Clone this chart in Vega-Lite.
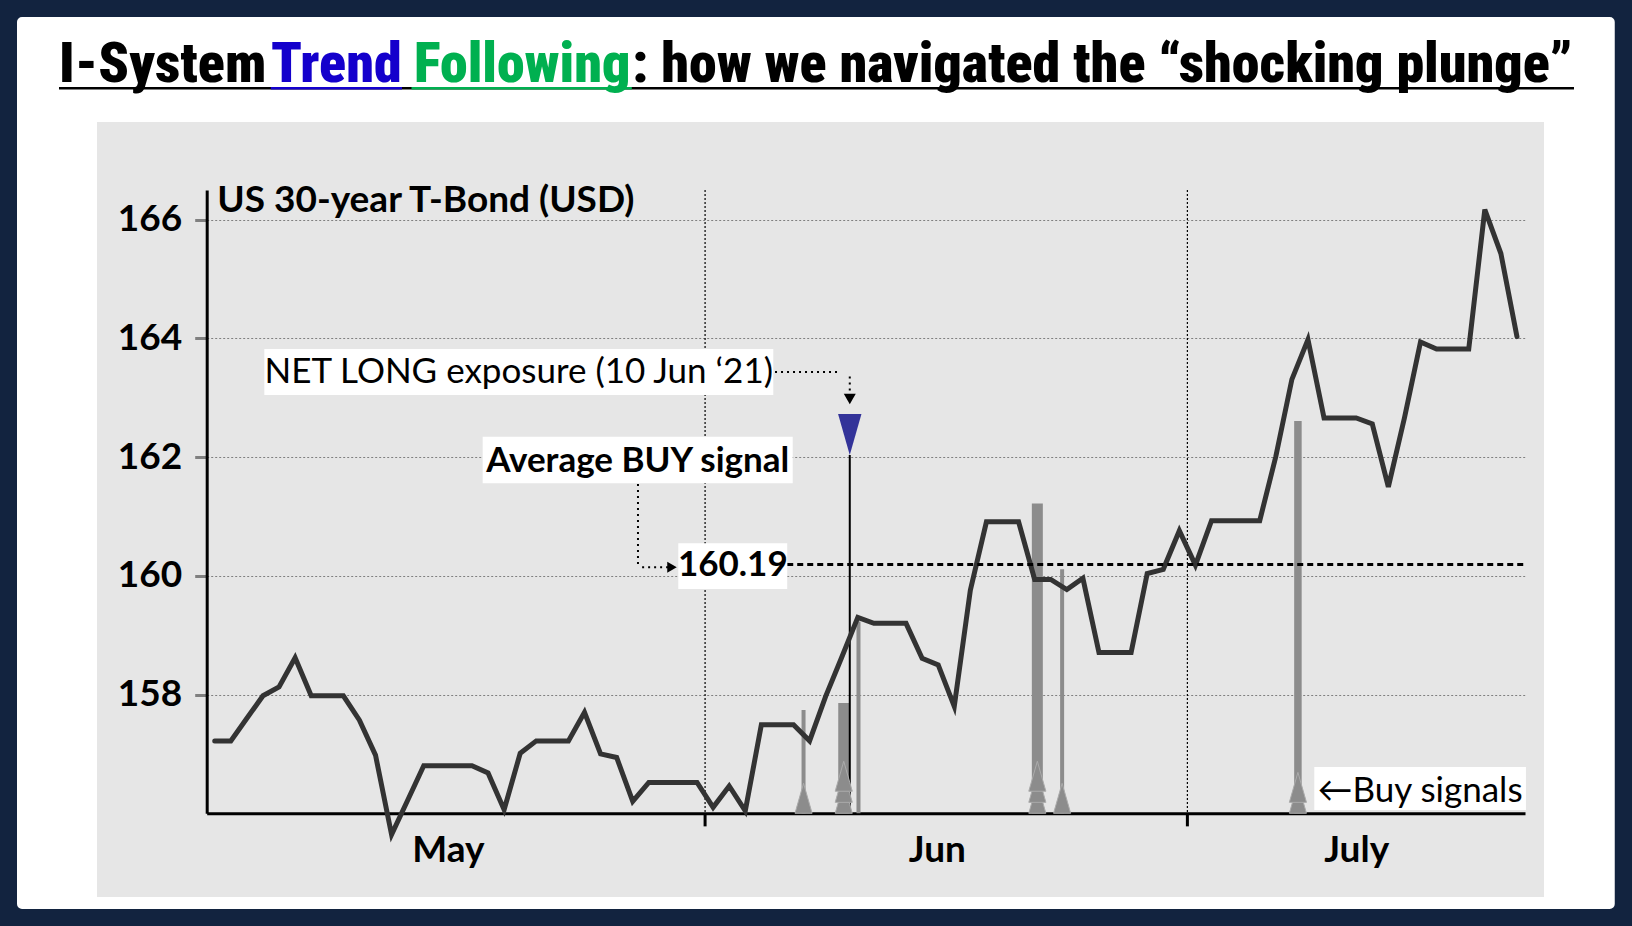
{
  "$schema": "https://vega.github.io/schema/vega-lite/v6.json",
  "width": 1447,
  "height": 775,
  "autosize": "none",
  "padding": {"left": 97, "top": 122, "right": 88, "bottom": 29},
  "background": "white",
  "config": {"view": {"fill": "#E6E6E6", "stroke": null}, "font": "Lato"},
  "datasets": {
    "price": [
      {"date": "2021-05-01", "price": 157.22}, {"date": "2021-05-02", "price": 157.22}, {"date": "2021-05-03", "price": 157.6},
      {"date": "2021-05-04", "price": 157.98}, {"date": "2021-05-05", "price": 158.13}, {"date": "2021-05-06", "price": 158.62},
      {"date": "2021-05-07", "price": 157.98}, {"date": "2021-05-08", "price": 157.98}, {"date": "2021-05-09", "price": 157.98},
      {"date": "2021-05-10", "price": 157.57}, {"date": "2021-05-11", "price": 156.98}, {"date": "2021-05-12", "price": 155.64},
      {"date": "2021-05-13", "price": 156.22}, {"date": "2021-05-14", "price": 156.8}, {"date": "2021-05-15", "price": 156.8},
      {"date": "2021-05-16", "price": 156.8}, {"date": "2021-05-17", "price": 156.8}, {"date": "2021-05-18", "price": 156.68},
      {"date": "2021-05-19", "price": 156.06}, {"date": "2021-05-20", "price": 157.01}, {"date": "2021-05-21", "price": 157.22},
      {"date": "2021-05-22", "price": 157.22}, {"date": "2021-05-23", "price": 157.22}, {"date": "2021-05-24", "price": 157.7},
      {"date": "2021-05-25", "price": 157.0}, {"date": "2021-05-26", "price": 156.94}, {"date": "2021-05-27", "price": 156.2},
      {"date": "2021-05-28", "price": 156.52}, {"date": "2021-05-29", "price": 156.52}, {"date": "2021-05-30", "price": 156.52},
      {"date": "2021-05-31", "price": 156.52}, {"date": "2021-06-01", "price": 156.1}, {"date": "2021-06-02", "price": 156.46},
      {"date": "2021-06-03", "price": 156.04}, {"date": "2021-06-04", "price": 157.49}, {"date": "2021-06-05", "price": 157.49},
      {"date": "2021-06-06", "price": 157.49}, {"date": "2021-06-07", "price": 157.22}, {"date": "2021-06-08", "price": 157.97},
      {"date": "2021-06-09", "price": 158.63}, {"date": "2021-06-10", "price": 159.3}, {"date": "2021-06-11", "price": 159.2},
      {"date": "2021-06-12", "price": 159.2}, {"date": "2021-06-13", "price": 159.2}, {"date": "2021-06-14", "price": 158.61},
      {"date": "2021-06-15", "price": 158.5}, {"date": "2021-06-16", "price": 157.8}, {"date": "2021-06-17", "price": 159.76},
      {"date": "2021-06-18", "price": 160.91}, {"date": "2021-06-19", "price": 160.91}, {"date": "2021-06-20", "price": 160.91},
      {"date": "2021-06-21", "price": 159.94}, {"date": "2021-06-22", "price": 159.94}, {"date": "2021-06-23", "price": 159.77},
      {"date": "2021-06-24", "price": 159.96}, {"date": "2021-06-25", "price": 158.71}, {"date": "2021-06-26", "price": 158.71},
      {"date": "2021-06-27", "price": 158.71}, {"date": "2021-06-28", "price": 160.04}, {"date": "2021-06-29", "price": 160.11},
      {"date": "2021-06-30", "price": 160.76}, {"date": "2021-07-01", "price": 160.18}, {"date": "2021-07-02", "price": 160.93},
      {"date": "2021-07-03", "price": 160.93}, {"date": "2021-07-04", "price": 160.93}, {"date": "2021-07-05", "price": 160.93},
      {"date": "2021-07-06", "price": 162.01}, {"date": "2021-07-07", "price": 163.31}, {"date": "2021-07-08", "price": 163.98},
      {"date": "2021-07-09", "price": 162.66}, {"date": "2021-07-10", "price": 162.66}, {"date": "2021-07-11", "price": 162.66},
      {"date": "2021-07-12", "price": 162.56}, {"date": "2021-07-13", "price": 161.5}, {"date": "2021-07-14", "price": 162.66},
      {"date": "2021-07-15", "price": 163.94}, {"date": "2021-07-16", "price": 163.82}, {"date": "2021-07-17", "price": 163.82},
      {"date": "2021-07-18", "price": 163.82}, {"date": "2021-07-19", "price": 166.17}, {"date": "2021-07-20", "price": 165.43},
      {"date": "2021-07-21", "price": 164.03}
    ],
    "months": [
      {"boundary": "2021-05-31T12:00:00Z"},
      {"boundary": "2021-06-30T12:00:00Z"}
    ],
    "signals": [
      {"date": "2021-06-06T15:00:00Z", "level": 157.74, "n": 1},
      {"date": "2021-06-09T03:00:00Z", "level": 157.86, "n": 3},
      {"date": "2021-06-10T01:00:00Z", "level": 159.23, "n": 1},
      {"date": "2021-06-21T04:00:00Z", "level": 161.22, "n": 3},
      {"date": "2021-06-22T17:00:00Z", "level": 160.11, "n": 1},
      {"date": "2021-07-07T09:00:00Z", "level": 162.61, "n": 2}
    ],
    "triangles": [
      {"date": "2021-06-06T15:00:00Z", "k": 0},
      {"date": "2021-06-09T03:00:00Z", "k": 0},
      {"date": "2021-06-09T03:00:00Z", "k": 1},
      {"date": "2021-06-09T03:00:00Z", "k": 2},
      {"date": "2021-06-21T04:00:00Z", "k": 0},
      {"date": "2021-06-21T04:00:00Z", "k": 1},
      {"date": "2021-06-21T04:00:00Z", "k": 2},
      {"date": "2021-06-22T17:00:00Z", "k": 0},
      {"date": "2021-07-07T09:00:00Z", "k": 0},
      {"date": "2021-07-07T09:00:00Z", "k": 1}
    ]
  },
  "layer": [
    {
      "data": {"name": "price"},
      "mark": {"type": "line", "color": "#333333", "strokeWidth": 5, "opacity": 0},
      "encoding": {
        "x": {
          "field": "date", "type": "temporal",
          "scale": {"type": "utc", "nice": false,
            "domain": [{"year": 2021, "month": 4, "date": 30, "hours": 12, "utc": true}, {"year": 2021, "month": 7, "date": 21, "hours": 12, "utc": true}],
            "range": [109.7, 1428]},
          "axis": {
            "title": null, "offset": -83.7, "grid": false, "ticks": false,
            "values": [
              {"year": 2021, "month": 5, "date": 15, "hours": 12, "utc": true},
              {"year": 2021, "month": 6, "date": 14, "hours": 22, "utc": true},
              {"year": 2021, "month": 7, "date": 11, "hours": 0, "utc": true}
            ],
            "labelExpr": "utcmonth(datum.value) == 4 ? 'May' : (utcmonth(datum.value) == 5 ? 'Jun' : 'July')",
            "domainColor": "black", "domainWidth": 3,
            "labelFont": "Lato", "labelFontWeight": "bold", "labelFontSize": 37, "labelColor": "black",
            "labelPadding": 19, "labelFlush": false, "labelOverlap": false
          }
        },
        "y": {
          "field": "price", "type": "quantitative",
          "scale": {"domain": [156, 166.5], "nice": false, "zero": false, "range": [691.3, 68]},
          "axis": {
            "values": [158, 160, 162, 164, 166], "format": "d", "offset": -109.7,
            "domainColor": "black", "domainWidth": 3,
            "tickColor": "#808080", "tickWidth": 3, "tickSize": 12,
            "grid": true, "gridColor": "#808080", "gridDash": [2, 2], "gridWidth": 1,
            "labelFont": "Lato", "labelFontWeight": "bold", "labelFontSize": 37, "labelColor": "black", "labelPadding": 13,
            "title": "US 30-year T-Bond (USD)", "titleFont": "Lato", "titleFontWeight": "bold", "titleFontSize": 37,
            "titleColor": "black", "titleAngle": 0, "titleAlign": "left", "titleBaseline": "alphabetic",
            "titleX": 10, "titleY": 89.7
          }
        }
      }
    },
    {
      "data": {"name": "months"},
      "mark": {"type": "rule", "color": "black", "strokeWidth": 1.2, "strokeDash": [2, 2]},
      "encoding": {
        "x": {"field": "boundary", "type": "temporal"},
        "y": {"datum": 166.5, "type": "quantitative"},
        "y2": {"datum": 156}
      }
    },
    {
      "data": {"name": "months"},
      "mark": {"type": "rule", "color": "black", "strokeWidth": 3},
      "encoding": {
        "x": {"field": "boundary", "type": "temporal"},
        "y": {"datum": 156, "type": "quantitative"},
        "y2": {"datum": 155.78}
      }
    },
    {
      "data": {"name": "signals"},
      "mark": {"type": "rule", "color": "#8C8C8C"},
      "encoding": {
        "x": {"field": "date", "type": "temporal"},
        "y": {"field": "level", "type": "quantitative"},
        "y2": {"datum": 156},
        "strokeWidth": {"field": "n", "type": "quantitative", "scale": {"domain": [1, 3], "range": [4, 11]}, "legend": null}
      }
    },
    {
      "data": {"values": [{}]},
      "mark": {"type": "rule", "color": "black", "strokeWidth": 2},
      "encoding": {
        "x": {"datum": {"year": 2021, "month": 6, "date": 9, "hours": 12, "utc": true}, "type": "temporal"},
        "y": {"datum": 162.036, "type": "quantitative"},
        "y2": {"datum": 156}
      }
    },
    {
      "data": {"name": "price"},
      "mark": {"type": "line", "color": "#333333", "strokeWidth": 5, "strokeJoin": "miter", "strokeCap": "round"},
      "encoding": {
        "x": {"field": "date", "type": "temporal"},
        "y": {"field": "price", "type": "quantitative"}
      }
    },
    {
      "data": {"values": [{}]},
      "mark": {"type": "rule", "color": "black", "strokeWidth": 3, "strokeDash": [6, 4]},
      "encoding": {
        "x": {"datum": {"year": 2021, "month": 6, "date": 5, "hours": 14, "minutes": 38, "utc": true}, "type": "temporal"},
        "x2": {"datum": {"year": 2021, "month": 7, "date": 21, "hours": 12, "utc": true}},
        "y": {"datum": 160.19, "type": "quantitative"}
      }
    },
    {
      "data": {"name": "triangles"},
      "mark": {"type": "point", "filled": true, "opacity": 1, "size": 900, "color": "#8C8C8C", "stroke": "#ABABAB", "strokeWidth": 1},
      "encoding": {
        "x": {"field": "date", "type": "temporal"},
        "y": {"datum": 156, "type": "quantitative"},
        "shape": {"field": "k", "type": "ordinal", "legend": null,
          "scale": {"domain": [0, 1, 2], "range": ["M-0.57,0L0.57,0L0,-2Z", "M-0.57,-0.73L0.57,-0.73L0,-2.73Z", "M-0.57,-1.47L0.57,-1.47L0,-3.47Z"]}}
      }
    },
    {
      "data": {"values": [{}]},
      "mark": {"type": "point", "shape": "M-0.57,-2L0.57,-2L0,0Z", "size": 1681, "filled": true, "opacity": 1, "color": "#333399"},
      "encoding": {
        "x": {"datum": {"year": 2021, "month": 6, "date": 9, "hours": 12, "utc": true}, "type": "temporal"},
        "y": {"datum": 162.036, "type": "quantitative"}
      }
    },
    {
      "data": {"values": [{}]},
      "mark": {"type": "rect", "color": "white"},
      "encoding": {
        "x": {"datum": {"year": 2021, "month": 5, "date": 4, "hours": 2, "utc": true}, "type": "temporal"},
        "x2": {"datum": {"year": 2021, "month": 6, "date": 4, "hours": 17, "minutes": 50, "utc": true}},
        "y": {"datum": 163.822, "type": "quantitative"},
        "y2": {"datum": 163.047}
      }
    },
    {
      "data": {"values": [{}]},
      "mark": {"type": "rect", "color": "white"},
      "encoding": {
        "x": {"datum": {"year": 2021, "month": 5, "date": 17, "hours": 16, "utc": true}, "type": "temporal"},
        "x2": {"datum": {"year": 2021, "month": 6, "date": 5, "hours": 22, "minutes": 48, "utc": true}},
        "y": {"datum": 162.344, "type": "quantitative"},
        "y2": {"datum": 161.559}
      }
    },
    {
      "data": {"values": [{}]},
      "mark": {"type": "rect", "color": "white"},
      "encoding": {
        "x": {"datum": {"year": 2021, "month": 5, "date": 29, "hours": 20, "utc": true}, "type": "temporal"},
        "x2": {"datum": {"year": 2021, "month": 6, "date": 5, "hours": 14, "minutes": 38, "utc": true}},
        "y": {"datum": 160.549, "type": "quantitative"},
        "y2": {"datum": 159.779}
      }
    },
    {
      "data": {"values": [{}]},
      "mark": {"type": "rect", "color": "white"},
      "encoding": {
        "x": {"datum": {"year": 2021, "month": 7, "date": 8, "hours": 9, "minutes": 26, "utc": true}, "type": "temporal"},
        "x2": {"datum": {"year": 2021, "month": 7, "date": 21, "hours": 13, "minutes": 26, "utc": true}},
        "y": {"datum": 156.78, "type": "quantitative"},
        "y2": {"datum": 156.056}
      }
    },
    {
      "data": {"values": [{}]},
      "mark": {"type": "text", "font": "Lato", "fontSize": 35, "align": "center", "baseline": "alphabetic", "color": "black"},
      "encoding": {
        "x": {"datum": {"year": 2021, "month": 5, "date": 19, "hours": 21, "minutes": 55, "utc": true}, "type": "temporal"},
        "y": {"datum": 163.249, "type": "quantitative"},
        "text": {"value": "NET LONG exposure (10 Jun ‘21)"}
      }
    },
    {
      "data": {"values": [{}]},
      "mark": {"type": "text", "font": "Lato", "fontSize": 35, "fontWeight": "bold", "align": "center", "baseline": "alphabetic", "color": "black"},
      "encoding": {
        "x": {"datum": {"year": 2021, "month": 5, "date": 27, "hours": 7, "minutes": 24, "utc": true}, "type": "temporal"},
        "y": {"datum": 161.755, "type": "quantitative"},
        "text": {"value": "Average BUY signal"}
      }
    },
    {
      "data": {"values": [{}]},
      "mark": {"type": "text", "font": "Lato", "fontSize": 35, "fontWeight": "bold", "align": "center", "baseline": "middle", "color": "black"},
      "encoding": {
        "x": {"datum": {"year": 2021, "month": 6, "date": 2, "hours": 5, "minutes": 23, "utc": true}, "type": "temporal"},
        "y": {"datum": 160.19, "type": "quantitative"},
        "text": {"value": "160.19"}
      }
    },
    {
      "data": {"values": [{}]},
      "mark": {"type": "text", "font": "Lato", "fontSize": 35, "align": "center", "baseline": "alphabetic", "color": "black"},
      "encoding": {
        "x": {"datum": {"year": 2021, "month": 7, "date": 14, "hours": 23, "minutes": 17, "utc": true}, "type": "temporal"},
        "y": {"datum": 156.197, "type": "quantitative"},
        "text": {"value": "←Buy signals"}
      }
    },
    {
      "data": {"values": [{}]},
      "mark": {"type": "rule", "color": "black", "strokeWidth": 2, "strokeDash": [2, 4]},
      "encoding": {
        "x": {"datum": {"year": 2021, "month": 6, "date": 4, "hours": 20, "minutes": 24, "utc": true}, "type": "temporal"},
        "x2": {"datum": {"year": 2021, "month": 6, "date": 8, "hours": 18, "utc": true}},
        "y": {"datum": 163.434, "type": "quantitative"}
      }
    },
    {
      "data": {"values": [{}]},
      "mark": {"type": "rule", "color": "black", "strokeWidth": 2, "strokeDash": [2, 4]},
      "encoding": {
        "x": {"datum": {"year": 2021, "month": 6, "date": 9, "hours": 12, "utc": true}, "type": "temporal"},
        "y": {"datum": 163.36, "type": "quantitative"},
        "y2": {"datum": 163.09}
      }
    },
    {
      "data": {"values": [{}]},
      "mark": {"type": "point", "shape": "triangle-down", "size": 144, "filled": true, "opacity": 1, "color": "black"},
      "encoding": {
        "x": {"datum": {"year": 2021, "month": 6, "date": 9, "hours": 12, "utc": true}, "type": "temporal"},
        "y": {"datum": 162.98, "type": "quantitative"}
      }
    },
    {
      "data": {"values": [{}]},
      "mark": {"type": "rule", "color": "black", "strokeWidth": 2, "strokeDash": [2, 4]},
      "encoding": {
        "x": {"datum": {"year": 2021, "month": 5, "date": 27, "hours": 7, "minutes": 50, "utc": true}, "type": "temporal"},
        "y": {"datum": 161.547, "type": "quantitative"},
        "y2": {"datum": 160.2}
      }
    },
    {
      "data": {"values": [{}]},
      "mark": {"type": "rule", "color": "black", "strokeWidth": 2, "strokeDash": [2, 4]},
      "encoding": {
        "x": {"datum": {"year": 2021, "month": 5, "date": 27, "hours": 14, "utc": true}, "type": "temporal"},
        "x2": {"datum": {"year": 2021, "month": 5, "date": 29, "hours": 4, "minutes": 39, "utc": true}},
        "y": {"datum": 160.144, "type": "quantitative"}
      }
    },
    {
      "data": {"values": [{}]},
      "mark": {"type": "point", "shape": "triangle-right", "size": 121, "filled": true, "opacity": 1, "color": "black"},
      "encoding": {
        "x": {"datum": {"year": 2021, "month": 5, "date": 29, "hours": 10, "minutes": 36, "utc": true}, "type": "temporal"},
        "y": {"datum": 160.144, "type": "quantitative"}
      }
    },
    {
      "data": {"values": [{}]},
      "mark": {"type": "rule", "color": "black", "strokeWidth": 2.5},
      "encoding": {
        "x": {"datum": {"year": 2021, "month": 4, "date": 21, "hours": 7, "minutes": 30, "utc": true}, "type": "temporal"},
        "x2": {"datum": {"year": 2021, "month": 7, "date": 24, "hours": 13, "minutes": 8, "utc": true}},
        "y": {"datum": 168.214, "type": "quantitative"}
      }
    },
    {
      "data": {"values": [{}]},
      "mark": {"type": "rule", "color": "#1400CC", "strokeWidth": 2.5},
      "encoding": {
        "x": {"datum": {"year": 2021, "month": 5, "date": 4, "hours": 11, "minutes": 42, "utc": true}, "type": "temporal"},
        "x2": {"datum": {"year": 2021, "month": 5, "date": 12, "hours": 15, "minutes": 33, "utc": true}},
        "y": {"datum": 168.214, "type": "quantitative"}
      }
    },
    {
      "data": {"values": [{}]},
      "mark": {"type": "rule", "color": "#00B050", "strokeWidth": 2.5},
      "encoding": {
        "x": {"datum": {"year": 2021, "month": 5, "date": 13, "hours": 5, "minutes": 44, "utc": true}, "type": "temporal"},
        "x2": {"datum": {"year": 2021, "month": 5, "date": 26, "hours": 22, "minutes": 36, "utc": true}},
        "y": {"datum": 168.214, "type": "quantitative"}
      }
    },
    {
      "data": {"values": [{}]},
      "mark": {"type": "text", "font": "'Noto Sans ExtraCondensed Black', 'Noto Sans ExtraCondensed', 'Roboto Condensed', 'DejaVu Sans Condensed', 'Liberation Sans', sans-serif", "fontSize": 56, "fontWeight": 900, "align": "left", "baseline": "alphabetic", "color": "black"},
      "encoding": {
        "x": {"datum": {"year": 2021, "month": 4, "date": 21, "hours": 7, "minutes": 30, "utc": true}, "type": "temporal"},
        "y": {"datum": 168.325, "type": "quantitative"},
        "text": {"value": "I-System"}
      }
    },
    {
      "data": {"values": [{}]},
      "mark": {"type": "text", "font": "'Noto Sans ExtraCondensed Black', 'Noto Sans ExtraCondensed', 'Roboto Condensed', 'DejaVu Sans Condensed', 'Liberation Sans', sans-serif", "fontSize": 56, "fontWeight": 900, "align": "left", "baseline": "alphabetic", "color": "#1400CC"},
      "encoding": {
        "x": {"datum": {"year": 2021, "month": 5, "date": 4, "hours": 12, "utc": true}, "type": "temporal"},
        "y": {"datum": 168.325, "type": "quantitative"},
        "text": {"value": "Trend"}
      }
    },
    {
      "data": {"values": [{}]},
      "mark": {"type": "text", "font": "'Noto Sans ExtraCondensed Black', 'Noto Sans ExtraCondensed', 'Roboto Condensed', 'DejaVu Sans Condensed', 'Liberation Sans', sans-serif", "fontSize": 56, "fontWeight": 900, "align": "left", "baseline": "alphabetic", "color": "#00B050"},
      "encoding": {
        "x": {"datum": {"year": 2021, "month": 5, "date": 13, "hours": 9, "minutes": 27, "utc": true}, "type": "temporal"},
        "y": {"datum": 168.325, "type": "quantitative"},
        "text": {"value": "Following"}
      }
    },
    {
      "data": {"values": [{}]},
      "mark": {"type": "text", "font": "'Noto Sans ExtraCondensed Black', 'Noto Sans ExtraCondensed', 'Roboto Condensed', 'DejaVu Sans Condensed', 'Liberation Sans', sans-serif", "fontSize": 56, "fontWeight": 900, "align": "left", "baseline": "alphabetic", "color": "black"},
      "encoding": {
        "x": {"datum": {"year": 2021, "month": 5, "date": 26, "hours": 22, "minutes": 54, "utc": true}, "type": "temporal"},
        "y": {"datum": 168.325, "type": "quantitative"},
        "text": {"value": ": how we navigated the “shocking plunge”"}
      }
    },
    {
      "data": {"values": [{}]},
      "mark": {"type": "rect", "filled": false, "stroke": "#12233F", "strokeWidth": 34, "cornerRadius": 22},
      "encoding": {
        "x": {"datum": {"year": 2021, "month": 4, "date": 17, "hours": 15, "minutes": 26, "utc": true}, "type": "temporal"},
        "x2": {"datum": {"year": 2021, "month": 7, "date": 28, "hours": 3, "minutes": 22, "utc": true}},
        "y": {"datum": 169.701, "type": "quantitative"},
        "y2": {"datum": 154.101}
      }
    }
  ]
}
